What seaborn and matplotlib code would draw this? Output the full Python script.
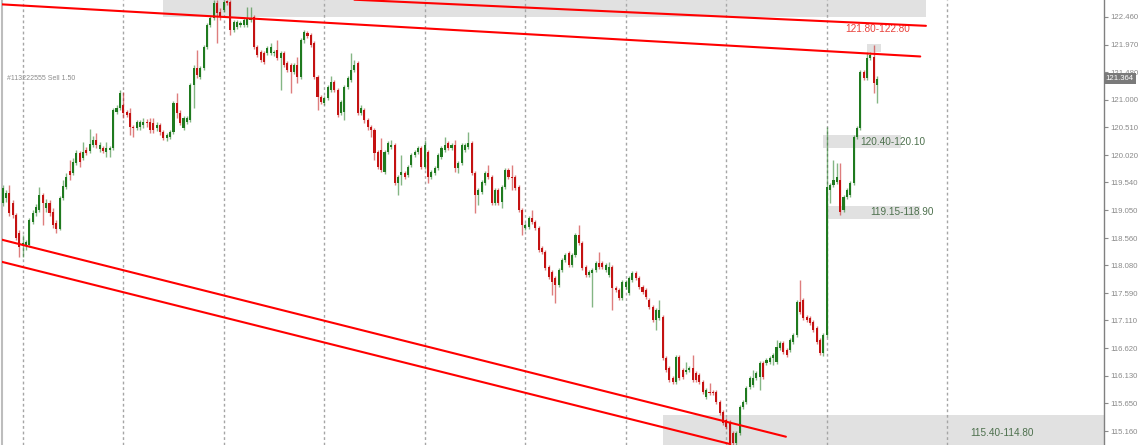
import numpy as np
import pandas as pd
import matplotlib
matplotlib.use("Agg")
import matplotlib.pyplot as plt
import seaborn as sns

# OHLC, one value per bar
opens = [119.18, 119.27, 119.35, 119.18, 118.97, 118.65, 118.44, 118.44, 118.44, 118.84,
         119.00, 119.05, 119.32, 119.09, 119.18, 119.02, 118.83, 118.72, 119.27, 119.46,
         119.74, 119.71, 119.88, 120.06, 119.97, 120.11, 120.09, 120.20, 120.29, 120.13,
         120.15, 120.08, 120.11, 120.15, 120.78, 120.85, 120.90, 120.78, 120.76, 120.52,
         120.50, 120.52, 120.55, 120.61, 120.61, 120.59, 120.50, 120.55, 120.43, 120.32,
         120.34, 120.43, 120.94, 120.76, 120.50, 120.61, 120.64, 121.26, 121.56, 121.40,
         121.56, 121.93, 122.31, 122.44, 122.70, 122.54, 122.58, 122.74, 122.72, 122.23,
         122.28, 122.31, 122.31, 122.31, 122.40, 122.46, 121.93, 121.84, 121.82, 121.82,
         121.82, 121.82, 121.87, 121.73, 121.82, 121.65, 121.61, 121.49, 121.61, 121.40,
         122.05, 122.17, 122.14, 121.99, 121.40, 121.05, 120.94, 121.03, 121.17, 121.31,
         121.17, 120.76, 120.78, 121.22, 121.35, 121.52, 121.65, 120.76, 120.82, 120.64,
         120.52, 120.46, 120.08, 120.11, 119.72, 120.08, 120.16, 120.20, 119.53, 119.67,
         119.71, 119.67, 119.85, 120.02, 120.08, 120.15, 119.81, 120.08, 119.64, 119.71,
         119.80, 119.99, 120.11, 120.24, 120.15, 120.20, 119.80, 119.88, 120.11, 120.16,
         120.24, 119.71, 119.32, 119.37, 119.53, 119.71, 119.64, 119.18, 119.41, 119.20,
         119.46, 119.76, 119.64, 119.64, 119.46, 119.05, 118.74, 118.76, 118.91, 118.84,
         118.74, 118.39, 118.31, 118.05, 117.96, 117.86, 117.73, 118.00, 118.17, 118.30,
         118.09, 118.26, 118.61, 118.47, 118.05, 117.91, 117.94, 118.00, 118.12, 118.12,
         118.00, 117.91, 118.05, 117.68, 117.65, 117.50, 117.70, 117.59, 117.82, 117.94,
         117.86, 117.70, 117.65, 117.47, 117.35, 117.12, 117.15, 117.17, 116.45, 116.27,
         116.09, 116.02, 116.46, 116.24, 116.20, 116.24, 116.27, 116.18, 116.15, 116.02,
         115.76, 115.85, 115.85, 115.85, 115.67, 115.50, 115.36, 115.30, 115.12, 114.95,
         115.12, 115.58, 115.67, 115.94, 115.97, 116.09, 116.11, 116.36, 116.36, 116.38,
         116.45, 116.38, 116.62, 116.71, 116.59, 116.59, 116.73, 116.85, 117.43, 117.47,
         117.17, 117.15, 117.08, 116.98, 116.76, 116.53, 116.85, 119.41, 119.50, 119.55,
         119.58, 119.05, 119.28, 119.32, 119.53, 120.34, 120.50, 121.49, 121.38, 121.73,
         121.75, 121.26]
highs = [119.50, 119.41, 119.50, 119.23, 119.00, 118.70, 118.61, 118.53, 118.91, 119.05,
         119.16, 119.46, 119.35, 119.25, 119.23, 119.09, 118.88, 119.30, 119.58, 119.71,
         119.94, 119.97, 120.11, 120.09, 120.25, 120.16, 120.48, 120.36, 120.41, 120.25,
         120.18, 120.25, 120.18, 120.85, 120.90, 121.17, 121.13, 120.82, 120.85, 120.55,
         120.64, 120.64, 120.68, 120.66, 120.68, 120.68, 120.61, 120.59, 120.46, 120.41,
         120.46, 120.97, 121.12, 120.82, 120.71, 120.71, 121.29, 121.61, 121.87, 121.59,
         121.96, 122.35, 122.47, 122.75, 122.75, 122.61, 122.75, 122.75, 122.75, 122.40,
         122.40, 122.38, 122.44, 122.63, 122.63, 122.49, 121.96, 121.87, 121.86, 121.94,
         122.00, 121.87, 122.05, 121.86, 121.86, 121.68, 121.64, 121.64, 121.75, 122.09,
         122.23, 122.21, 122.17, 122.03, 121.43, 121.08, 121.06, 121.26, 121.42, 121.35,
         121.20, 120.99, 121.26, 121.42, 121.82, 121.70, 121.68, 120.90, 120.85, 120.68,
         120.55, 120.50, 120.11, 120.32, 120.11, 120.27, 120.29, 120.24, 119.67, 120.02,
         119.74, 119.85, 120.06, 120.11, 120.18, 120.18, 120.29, 120.11, 119.76, 119.83,
         120.06, 120.18, 120.34, 120.27, 120.24, 120.29, 119.92, 120.24, 120.24, 120.43,
         120.27, 119.74, 119.44, 119.58, 119.74, 119.85, 119.67, 119.44, 119.44, 119.50,
         119.80, 119.80, 119.85, 119.67, 119.50, 119.09, 118.83, 118.95, 119.05, 118.88,
         118.77, 118.42, 118.35, 118.09, 118.00, 117.89, 118.03, 118.21, 118.30, 118.33,
         118.30, 118.65, 118.79, 118.51, 118.09, 118.00, 118.03, 118.16, 118.31, 118.16,
         118.12, 118.14, 118.09, 117.72, 117.68, 117.82, 117.82, 117.89, 117.98, 117.98,
         117.89, 117.73, 117.68, 117.50, 117.38, 117.33, 117.47, 117.21, 116.48, 116.30,
         116.13, 116.50, 116.50, 116.27, 116.38, 116.30, 116.50, 116.22, 116.18, 116.06,
         115.92, 116.00, 115.88, 115.88, 115.70, 115.53, 115.39, 115.36, 115.16, 115.16,
         115.62, 115.70, 115.95, 116.13, 116.24, 116.22, 116.39, 116.39, 116.45, 116.48,
         116.53, 116.76, 116.74, 116.74, 116.62, 116.80, 116.89, 117.47, 117.82, 117.50,
         117.21, 117.19, 117.12, 117.01, 116.80, 116.89, 120.52, 119.53, 119.94, 119.88,
         119.88, 119.32, 119.44, 119.57, 120.38, 120.53, 121.52, 121.52, 121.84, 121.84,
         121.96, 121.42]
lows = [119.12, 119.20, 118.95, 118.91, 118.53, 118.23, 118.23, 118.35, 118.40, 118.81,
        118.95, 119.02, 118.79, 119.02, 118.95, 118.74, 118.65, 118.70, 119.23, 119.42,
        119.58, 119.67, 119.85, 119.81, 119.94, 120.02, 120.06, 120.16, 120.15, 120.08,
        120.06, 119.99, 119.99, 120.11, 120.75, 120.82, 120.68, 120.69, 120.38, 120.34,
        120.46, 120.46, 120.50, 120.52, 120.41, 120.41, 120.45, 120.38, 120.29, 120.27,
        120.31, 120.39, 120.68, 120.55, 120.46, 120.57, 120.61, 120.85, 121.38, 121.36,
        121.52, 121.89, 122.28, 122.40, 122.00, 122.40, 122.54, 122.67, 122.14, 122.19,
        122.24, 122.28, 122.28, 122.28, 122.37, 121.89, 121.75, 121.66, 121.63, 121.79,
        121.79, 121.77, 121.70, 121.17, 121.57, 121.49, 121.12, 121.45, 121.29, 121.36,
        122.00, 122.08, 121.93, 121.36, 120.82, 120.92, 120.90, 120.99, 121.13, 121.13,
        120.69, 120.73, 120.64, 121.19, 121.31, 121.49, 120.73, 120.73, 120.59, 120.46,
        120.34, 119.94, 119.78, 119.72, 119.69, 120.04, 120.13, 119.50, 119.32, 119.50,
        119.60, 119.64, 119.81, 119.99, 120.04, 119.78, 119.78, 119.53, 119.60, 119.67,
        119.76, 119.95, 120.08, 120.11, 120.11, 119.72, 119.71, 119.85, 120.08, 120.13,
        119.67, 119.00, 119.14, 119.34, 119.50, 119.60, 119.14, 119.14, 119.14, 119.09,
        119.42, 119.60, 119.41, 119.41, 119.02, 118.61, 118.70, 118.72, 118.81, 118.70,
        118.31, 118.28, 118.00, 117.84, 117.56, 117.42, 117.70, 117.96, 118.14, 118.05,
        118.05, 118.23, 118.44, 118.00, 117.87, 117.87, 117.35, 117.96, 118.02, 118.02,
        117.96, 117.87, 117.29, 117.61, 117.47, 117.47, 117.66, 117.56, 117.79, 117.82,
        117.66, 117.57, 117.49, 117.31, 117.08, 116.94, 117.12, 116.41, 116.20, 116.02,
        115.99, 115.99, 116.06, 116.08, 116.16, 116.20, 116.02, 116.02, 115.99, 115.81,
        115.72, 115.79, 115.79, 115.64, 115.44, 115.27, 115.20, 114.91, 114.91, 114.91,
        115.09, 115.55, 115.64, 115.90, 115.94, 116.06, 115.88, 116.08, 116.32, 116.34,
        116.32, 116.34, 116.59, 116.52, 116.46, 116.55, 116.69, 116.82, 117.22, 117.12,
        117.08, 117.03, 116.90, 116.69, 116.50, 116.48, 116.82, 119.18, 119.46, 119.51,
        118.97, 119.02, 119.25, 119.28, 119.50, 120.31, 120.46, 121.35, 121.35, 121.70,
        121.12, 120.94]
closes = [119.44, 119.35, 119.00, 118.97, 118.56, 118.40, 118.47, 118.49, 118.88, 119.00,
          119.11, 119.32, 119.18, 119.18, 119.00, 118.79, 118.72, 119.27, 119.48, 119.64,
          119.67, 119.90, 120.06, 119.90, 120.08, 120.06, 120.22, 120.29, 120.20, 120.20,
          120.09, 120.15, 120.15, 120.82, 120.85, 121.12, 120.76, 120.73, 120.52, 120.50,
          120.61, 120.61, 120.61, 120.59, 120.46, 120.46, 120.55, 120.43, 120.32, 120.38,
          120.43, 120.94, 120.76, 120.59, 120.68, 120.68, 121.26, 121.56, 121.43, 121.56,
          121.93, 122.31, 122.44, 122.70, 122.53, 122.46, 122.72, 122.70, 122.23, 122.37,
          122.37, 122.35, 122.40, 122.44, 122.44, 121.93, 121.79, 121.70, 121.66, 121.91,
          121.93, 121.84, 121.73, 121.82, 121.61, 121.52, 121.49, 121.61, 121.40, 122.05,
          122.19, 122.12, 121.96, 121.40, 121.05, 120.96, 121.03, 121.22, 121.31, 121.17,
          120.73, 120.96, 121.22, 121.38, 121.52, 121.61, 120.76, 120.85, 120.64, 120.52,
          120.46, 120.06, 119.81, 119.76, 120.08, 120.24, 120.20, 119.53, 119.64, 119.72,
          119.64, 119.81, 120.02, 120.08, 120.15, 119.81, 120.20, 119.64, 119.72, 119.80,
          120.02, 120.15, 120.20, 120.15, 120.20, 119.80, 119.88, 120.20, 120.20, 120.24,
          119.71, 119.32, 119.41, 119.55, 119.71, 119.64, 119.18, 119.41, 119.18, 119.46,
          119.76, 119.64, 119.62, 119.44, 119.05, 118.79, 118.79, 118.91, 118.84, 118.74,
          118.35, 118.31, 118.03, 117.87, 117.79, 117.73, 118.00, 118.17, 118.26, 118.09,
          118.26, 118.61, 118.47, 118.03, 117.91, 117.96, 118.00, 118.12, 118.05, 118.05,
          118.09, 118.05, 117.68, 117.65, 117.50, 117.79, 117.79, 117.86, 117.94, 117.86,
          117.70, 117.61, 117.52, 117.35, 117.12, 117.29, 117.29, 116.45, 116.24, 116.06,
          116.02, 116.46, 116.09, 116.11, 116.24, 116.27, 116.06, 116.06, 116.02, 115.85,
          115.88, 115.83, 115.83, 115.67, 115.48, 115.30, 115.23, 114.95, 114.95, 115.12,
          115.58, 115.67, 115.92, 116.09, 116.09, 116.18, 116.36, 116.11, 116.41, 116.45,
          116.50, 116.64, 116.71, 116.55, 116.50, 116.76, 116.85, 117.43, 117.26, 117.15,
          117.12, 117.06, 116.94, 116.73, 116.53, 116.85, 119.46, 119.50, 119.58, 119.64,
          119.02, 119.28, 119.41, 119.53, 120.34, 120.50, 121.49, 121.38, 121.73, 121.79,
          121.29, 121.364]

price_ticks = [122.460, 121.970, 121.480, 121.000, 120.510, 120.020, 119.540, 119.050,
               118.560, 118.080, 117.590, 117.110, 116.620, 116.130, 115.650, 115.160]
day_bars = [6, 36, 66, 96, 126, 156, 186, 216, 246, 282]
last_price = 121.364

# zones: bar from, bar to, price low, price high
zone_from = [47.9, 244.8, 246.3, 197.0, 258.1]
zone_to = [275.6, 268.1, 273.8, 330.0, 262.3]
zone_low = [122.46, 120.14, 118.89, 114.80, 121.83]
zone_high = [122.80, 120.37, 119.13, 115.44, 121.98]

# trendlines: (bar, price) end points
line_bars = [[-0.8, 273.9], [105.0, 275.6], [-0.8, 233.8], [-0.8, 217.2]]
line_prices = [[122.68, 121.76], [122.76, 122.30], [118.54, 115.06], [118.15, 114.93]]

df = pd.DataFrame({"bar": np.arange(len(closes)), "open": opens, "high": highs,
                   "low": lows, "close": closes})
df["up"] = df["close"] >= df["open"]

sns.set_theme(style="white")
plt.rcParams["font.family"] = ["Liberation Sans", "DejaVu Sans"]

fig = plt.figure(figsize=(11.4, 4.45), dpi=100)
ax = fig.add_axes([2 / 1140, 0, 1101.5 / 1140, 1])

for x0, x1, lo, hi in zip(zone_from, zone_to, zone_low, zone_high):
    ax.fill_between([x0, x1], lo, hi, color="#e1e1e1", lw=0, zorder=0)

green, red = "#1f7a1f", "#c41212"
cols = np.where(df["up"], green, red)
ax.vlines(df["bar"], df["low"], df["high"], colors=cols, lw=1, alpha=0.55, zorder=2)
body = (df["close"] - df["open"]).to_numpy()
body = np.where(np.abs(body) < 0.018, np.where(df["up"], 0.018, -0.018), body)
ax.bar(df["bar"], body, bottom=df["open"], width=0.62, color=cols, lw=0, zorder=3)

for xs, ys in zip(line_bars, line_prices):
    sns.lineplot(x=xs, y=ys, color="#ff0000", lw=1.5, ax=ax, zorder=4)

ax.set_xlim(-0.18, 328.6)
ax.set_ylim(114.914, 122.755)
ax.set_xticks(day_bars)
ax.grid(axis="x", color="#a5a5a5", linestyle=(0, (2, 2)), lw=1)
ax.grid(axis="y", visible=False)
ax.tick_params(axis="x", length=0, labelbottom=False)

ax.yaxis.tick_right()
ax.set_yticks(price_ticks)
ax.set_yticklabels([f"{v:.3f}" for v in price_ticks])
ax.tick_params(axis="y", right=True, length=3, width=0.8, color="#8a8a8a",
               labelsize=5.6, labelcolor="#8a8a8a", pad=2)
for s in ["top", "bottom"]:
    ax.spines[s].set_visible(False)
ax.spines["right"].set_color("#808080")
ax.spines["right"].set_linewidth(1)
ax.spines["left"].set_color("#bdbdbd")
ax.spines["left"].set_linewidth(1.5)

ax.text(1.002, last_price, f"{last_price:.3f}", transform=ax.get_yaxis_transform(),
        ha="left", va="center", fontsize=5.6, color="white",
        bbox=dict(boxstyle="square,pad=0.25", fc="#7a7a7a", ec="none"))

ax.text(251.5, 122.24, "121.80-122.80", color="#e8423c", fontsize=7.2, va="center")
ax.text(256.0, 120.25, "120.40-120.10", color="#4d704d", fontsize=7.2, va="center")
ax.text(259.0, 119.02, "119.15-118.90", color="#4d704d", fontsize=7.2, va="center")
ax.text(288.8, 115.12, "115.40-114.80", color="#4d704d", fontsize=7.2, va="center")
ax.text(1.3, 121.38, "#113222555 Sell 1.50", color="#8c8c8c", fontsize=5, va="center")

fig.savefig("out.png", dpi=100)
